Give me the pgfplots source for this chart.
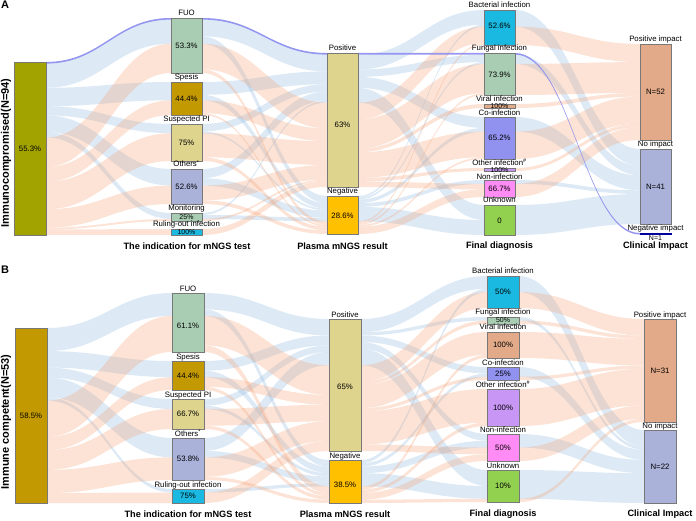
\documentclass[border=0pt]{standalone}
\usepackage{pgfplots}
\pgfplotsset{compat=1.18}
\usepackage{fontspec}
\setmainfont{Liberation Sans}

% node colours
\definecolor{cOlive}{RGB}{163,163,0}
\definecolor{cGold}{RGB}{194,153,0}
\definecolor{cMint}{RGB}{168,205,178}
\definecolor{cKhaki}{RGB}{222,212,142}
\definecolor{cLav}{RGB}{170,178,218}
\definecolor{cCyan}{RGB}{25,185,225}
\definecolor{cYel}{RGB}{255,192,0}
\definecolor{cPeach}{RGB}{226,170,136}
\definecolor{cCo}{RGB}{145,145,240}
\definecolor{cOth}{RGB}{200,150,245}
\definecolor{cNon}{RGB}{255,140,245}
\definecolor{cUnk}{RGB}{146,208,80}
\definecolor{cNeg}{RGB}{0,0,160}
\definecolor{bord}{RGB}{120,120,120}
% flow colours
\definecolor{flowblue}{RGB}{142,185,225}
\definecolor{flowsal}{RGB}{245,162,118}
\definecolor{flowneg}{RGB}{140,140,240}

\tikzset{
  bl/.style={fill=flowblue, fill opacity=0.3},
  sa/.style={fill=flowsal, fill opacity=0.3},
  ng/.style={fill=flowneg, fill opacity=0.9},
  lab/.style={anchor=base, inner sep=0pt, font=\fontsize{7.8}{8}\selectfont},
  pct/.style={anchor=center, inner sep=0pt, font=\fontsize{7.8}{8}\selectfont},
  tiny/.style={anchor=center, inner sep=0pt, font=\fontsize{7}{7}\selectfont},
  ttl/.style={anchor=center, inner sep=0pt, font=\fontsize{9.2}{10}\selectfont\bfseries},
}

% flow band: x0, x1, y0 top, y0 bottom, y1 top, y1 bottom, style
\newcommand{\fl}[7]{\fill[#7] (axis cs:#1,#3) .. controls +(56pt,0pt) and +(-56pt,0pt) .. (axis cs:#2,#5)
  -- (axis cs:#2,#6) .. controls +(-56pt,0pt) and +(56pt,0pt) .. (axis cs:#1,#4) -- cycle;}
% stratum box: x0, y0, x1, y1, colour
\newcommand{\bx}[5]{\addplot[fill=#5, draw=bord, line width=0.5pt] coordinates {(#1,#2) (#3,#2) (#3,#4) (#1,#4)} --cycle;}

\begin{document}
\begin{tikzpicture}
\begin{axis}[
  scale only axis, width=696pt, height=521pt,
  xmin=0, xmax=696, ymin=0, ymax=521, y dir=reverse,
  hide axis, clip=false,
]
\path (axis cs:0,0) rectangle (axis cs:696,521);

%%%%%%%%%%%%%%%%%%%% PANEL A %%%%%%%%%%%%%%%%%%%%
% gap 1
\fl{46}{171}{62}{87.8}{18}{43.7}{bl}
\fl{46}{171}{87.8}{106.2}{82}{100.3}{bl}
\fl{46}{171}{106.2}{115.4}{124}{133.2}{bl}
\fl{46}{171}{115.4}{132.0}{169}{185.6}{bl}
\fl{46}{171}{132.0}{137.5}{213}{219}{bl}
\fl{46}{171}{137.5}{167.0}{43.7}{73}{sa}
\fl{46}{171}{167.0}{181.7}{100.3}{115}{sa}
\fl{46}{171}{181.7}{209.3}{133.2}{161}{sa}
\fl{46}{171}{209.3}{227.7}{185.6}{204}{sa}
\fl{46}{171}{227.7}{229.5}{219}{221}{sa}
\fl{46}{171}{229.5}{235}{229}{235}{sa}
% gap 2
\fl{202}{327}{18}{36.3}{53}{71.4}{bl}
\fl{202}{327}{36.3}{43.7}{196}{203.2}{bl}
\fl{202}{327}{82}{94.8}{71.4}{84.2}{bl}
\fl{202}{327}{94.8}{100.3}{203.2}{208.7}{bl}
\fl{202}{327}{124}{131.4}{84.2}{91.6}{bl}
\fl{202}{327}{131.4}{133.2}{208.7}{210.5}{bl}
\fl{202}{327}{169}{178.2}{91.6}{100.8}{bl}
\fl{202}{327}{178.2}{185.6}{210.5}{217.7}{bl}
\fl{202}{327}{213}{215}{100.8}{102.6}{bl}
\fl{202}{327}{215}{219}{217.7}{221.3}{bl}
\fl{202}{327}{43.7}{69.3}{102.6}{128.3}{sa}
\fl{202}{327}{69.3}{73}{221.3}{224.9}{sa}
\fl{202}{327}{100.3}{113.2}{128.3}{141.2}{sa}
\fl{202}{327}{113.2}{115}{224.9}{226.7}{sa}
\fl{202}{327}{133.2}{157.3}{141.2}{165.0}{sa}
\fl{202}{327}{157.3}{161}{226.7}{230.4}{sa}
\fl{202}{327}{185.6}{200.3}{165.0}{179.7}{sa}
\fl{202}{327}{200.3}{204}{230.4}{234}{sa}
\fl{202}{327}{219}{221}{179.7}{181.5}{sa}
\fl{202}{327}{229}{235}{181.5}{187}{sa}
% gap 3
\fl{358}{484}{54.8}{69.5}{10}{24.7}{bl}
\fl{358}{484}{69.5}{76.9}{54.8}{62.1}{bl}
\fl{358}{484}{76.9}{87.9}{117}{128.0}{bl}
\fl{358}{484}{87.9}{102.6}{205}{220}{bl}
\fl{358}{484}{196}{197.8}{24.7}{26.6}{bl}
\fl{358}{484}{197.8}{199.6}{62.1}{64.0}{bl}
\fl{358}{484}{199.6}{203.2}{128.0}{131.6}{bl}
\fl{358}{484}{203.2}{206.9}{180}{183.8}{bl}
\fl{358}{484}{206.9}{221.3}{220}{235}{bl}
\fl{358}{484}{102.6}{119.1}{26.6}{43.2}{sa}
\fl{358}{484}{119.1}{148.5}{64.0}{93.2}{sa}
\fl{358}{484}{148.5}{152.2}{104}{108}{sa}
\fl{358}{484}{152.2}{177.9}{131.6}{157.2}{sa}
\fl{358}{484}{177.9}{181.6}{168}{171}{sa}
\fl{358}{484}{181.6}{187}{183.8}{189.4}{sa}
\fl{358}{484}{221.3}{223.1}{43.2}{45}{sa}
\fl{358}{484}{223.1}{224.9}{93.2}{95}{sa}
\fl{358}{484}{224.9}{226.7}{157.2}{159}{sa}
\fl{358}{484}{226.7}{234}{189.4}{197}{sa}
% gap 4
\fl{515}{640}{10}{26.6}{149}{165.9}{bl}
\fl{515}{640}{54.8}{64.0}{165.9}{175.3}{bl}
\fl{515}{640}{117}{131.6}{175.3}{190.3}{bl}
\fl{515}{640}{180}{183.8}{190.3}{194.0}{bl}
\fl{515}{640}{205}{235}{194.0}{224}{bl}
\fl{515}{640}{26.6}{45}{44}{62.1}{sa}
\fl{515}{640}{64.0}{95}{62.1}{92.9}{sa}
\fl{515}{640}{104}{108}{92.9}{96.5}{sa}
\fl{515}{640}{131.6}{159}{96.5}{123.7}{sa}
\fl{515}{640}{168}{171}{123.7}{127.3}{sa}
\fl{515}{640}{183.8}{197}{127.3}{140}{sa}
% the single negative-impact patient
\fl{46}{171}{62}{63.6}{18}{19.6}{ng}
\fl{202}{327}{18}{19.6}{53}{54.6}{ng}
\fl{358}{484}{53}{54.6}{53}{54.6}{ng}
\fl{515}{640}{53}{54.6}{233}{234.6}{ng}

% strata A
\bx{14}{62}{46}{235}{cOlive}
\bx{171}{18}{202}{73}{cMint}
\bx{171}{82}{202}{115}{cGold}
\bx{171}{124}{202}{161}{cKhaki}
\bx{171}{169}{202}{204}{cLav}
\bx{171}{213}{202}{221}{cMint}
\bx{171}{229}{202}{235}{cCyan}
\bx{327}{53}{358}{187}{cKhaki}
\bx{327}{196}{358}{234}{cYel}
\bx{484}{10}{515}{45}{cCyan}
\bx{484}{53}{515}{95}{cMint}
\bx{484}{104}{515}{108}{cPeach}
\bx{484}{117}{515}{159}{cCo}
\bx{484}{168}{515}{171}{cOth}
\bx{484}{180}{515}{197}{cNon}
\bx{484}{205}{515}{235}{cUnk}
\bx{640}{44}{671}{140}{cPeach}
\bx{640}{149}{671}{224}{cLav}
\addplot[fill=cNeg, draw=cNeg, line width=0.5pt] coordinates {(640,233) (671,233) (671,234.5) (640,234.5)} --cycle;

% labels A
\node[pct] at (axis cs:30,148.5) {55.3\%};
\node[lab] at (axis cs:186.5,16) {FUO};
\node[pct] at (axis cs:186.5,45.5) {53.3\%};
\node[lab] at (axis cs:186.5,80) {Spesis};
\node[pct] at (axis cs:186.5,98.5) {44.4\%};
\node[lab] at (axis cs:186.5,122) {Suspected PI};
\node[pct] at (axis cs:186.5,142.5) {75\%};
\node[lab] at (axis cs:186.5,167) {Others\textsuperscript{*}};
\node[pct] at (axis cs:186.5,186.5) {52.6\%};
\node[lab] at (axis cs:186.5,210.5) {Monitoring};
\node[tiny] at (axis cs:186.5,217) {25\%};
\node[lab] at (axis cs:186.5,226.5) {Ruling-out infection};
\node[tiny] at (axis cs:186.5,232.3) {100\%};
\node[lab] at (axis cs:342.5,51) {Positive};
\node[pct] at (axis cs:342.5,125) {63\%};
\node[lab] at (axis cs:342.5,194) {Negative};
\node[pct] at (axis cs:342.5,216) {28.6\%};
\node[lab] at (axis cs:499.5,8) {Bacterial infection};
\node[pct] at (axis cs:499.5,26) {52.6\%};
\node[lab] at (axis cs:499.5,51) {Fungal infection};
\node[pct] at (axis cs:499.5,75) {73.9\%};
\node[lab] at (axis cs:499.5,101.5) {Viral infection};
\node[tiny] at (axis cs:499.5,106.5) {100\%};
\node[lab] at (axis cs:499.5,115.3) {Co-infection};
\node[pct] at (axis cs:499.5,138) {65.2\%};
\node[lab] at (axis cs:499.5,165.3) {Other infection\textsuperscript{\#}};
\node[tiny] at (axis cs:499.5,169.8) {100\%};
\node[lab] at (axis cs:499.5,179.2) {Non-infection};
\node[pct] at (axis cs:499.5,189) {66.7\%};
\node[lab] at (axis cs:499.5,203) {Unknown};
\node[pct] at (axis cs:499.5,220.5) {0};
\node[lab] at (axis cs:655.5,42) {Positive impact};
\node[pct] at (axis cs:655.5,92) {N=52};
\node[lab] at (axis cs:655.5,147) {No impact};
\node[pct] at (axis cs:655.5,186.5) {N=41};
\node[lab] at (axis cs:655.5,231) {Negative impact};
\node[tiny] at (axis cs:655.5,238) {N=1};
\node[ttl] at (axis cs:187,246) {The indication for mNGS test};
\node[ttl] at (axis cs:342.5,246) {Plasma mNGS result};
\node[ttl] at (axis cs:499.5,246) {Final diagnosis};
\node[ttl] at (axis cs:655.5,246) {Clinical Impact};
\node[anchor=center, inner sep=0pt, rotate=90, font=\fontsize{11}{12}\selectfont\bfseries] at (axis cs:6,153) {Immunocompromised(N=94)};
\node[anchor=north west, inner sep=0pt, font=\fontsize{11}{12}\selectfont\bfseries] at (axis cs:1,1) {A};

%%%%%%%%%%%%%%%%%%%% PANEL B %%%%%%%%%%%%%%%%%%%%
% gap 1
\fl{47}{172}{328}{351.1}{293}{315.9}{bl}
\fl{47}{172}{351.1}{367.6}{361}{377.1}{bl}
\fl{47}{172}{367.6}{377.5}{399}{409}{bl}
\fl{47}{172}{377.5}{397.3}{438}{457.4}{bl}
\fl{47}{172}{397.3}{400.6}{489}{492.5}{bl}
\fl{47}{172}{400.6}{436.9}{315.9}{352}{sa}
\fl{47}{172}{436.9}{450.1}{377.1}{390}{sa}
\fl{47}{172}{450.1}{469.9}{409}{429}{sa}
\fl{47}{172}{469.9}{493.0}{457.4}{480}{sa}
\fl{47}{172}{493.0}{503}{492.5}{503}{sa}
% gap 2
\fl{204}{329}{293}{309.4}{319}{335.5}{bl}
\fl{204}{329}{309.4}{315.9}{460}{466.6}{bl}
\fl{204}{329}{361}{370.7}{335.5}{345.4}{bl}
\fl{204}{329}{370.7}{377.1}{466.6}{473.2}{bl}
\fl{204}{329}{399}{405.7}{345.4}{352}{bl}
\fl{204}{329}{405.7}{409}{473.2}{476.5}{bl}
\fl{204}{329}{438}{450.9}{352}{365.2}{bl}
\fl{204}{329}{450.9}{457.4}{476.5}{483.1}{bl}
\fl{204}{329}{489}{492.5}{483.1}{486.4}{bl}
\fl{204}{329}{315.9}{345.4}{365.2}{394.9}{sa}
\fl{204}{329}{345.4}{352}{486.4}{493.0}{sa}
\fl{204}{329}{377.1}{386.8}{394.9}{404.8}{sa}
\fl{204}{329}{386.8}{390}{493.0}{496.3}{sa}
\fl{204}{329}{409}{425.7}{404.8}{421.3}{sa}
\fl{204}{329}{425.7}{429}{496.3}{499.7}{sa}
\fl{204}{329}{457.4}{476.8}{421.3}{441.1}{sa}
\fl{204}{329}{476.8}{480}{499.7}{503}{sa}
\fl{204}{329}{492.5}{503}{441.1}{451}{sa}
% gap 3
\fl{361}{487}{319}{332.2}{276}{288.8}{bl}
\fl{361}{487}{332.2}{335.5}{317}{320.5}{bl}
\fl{361}{487}{335.5}{342.1}{367}{373.5}{bl}
\fl{361}{487}{342.1}{348.7}{434}{440.75}{bl}
\fl{361}{487}{348.7}{365.2}{470}{486}{bl}
\fl{361}{487}{460}{463.3}{288.8}{292}{bl}
\fl{361}{487}{463.3}{466.6}{373.5}{376.75}{bl}
\fl{361}{487}{466.6}{473.2}{440.75}{447.5}{bl}
\fl{361}{487}{473.2}{486.4}{486}{498.8}{bl}
\fl{361}{487}{365.2}{381.7}{292}{308}{sa}
\fl{361}{487}{381.7}{385.0}{320.5}{324}{sa}
\fl{361}{487}{385.0}{408.1}{332}{354.75}{sa}
\fl{361}{487}{408.1}{411.4}{376.75}{380}{sa}
\fl{361}{487}{411.4}{444.4}{389}{422.6}{sa}
\fl{361}{487}{444.4}{451}{447.5}{454.25}{sa}
\fl{361}{487}{486.4}{489.7}{354.75}{358}{sa}
\fl{361}{487}{489.7}{493.0}{422.6}{426}{sa}
\fl{361}{487}{493.0}{499.7}{454.25}{461}{sa}
\fl{361}{487}{499.7}{503}{498.8}{502}{sa}
% gap 4
\fl{519}{644}{276}{292}{430}{446.6}{bl}
\fl{519}{644}{317}{320.5}{446.6}{449.9}{bl}
\fl{519}{644}{367}{376.75}{449.9}{459.9}{bl}
\fl{519}{644}{434}{447.5}{459.9}{473.2}{bl}
\fl{519}{644}{470}{498.8}{473.2}{503}{bl}
\fl{519}{644}{292}{308}{319}{335.6}{sa}
\fl{519}{644}{320.5}{324}{335.6}{338.9}{sa}
\fl{519}{644}{332}{358}{338.9}{365.5}{sa}
\fl{519}{644}{376.75}{380}{365.5}{368.8}{sa}
\fl{519}{644}{389}{426}{368.8}{405.4}{sa}
\fl{519}{644}{447.5}{461}{405.4}{418.7}{sa}
\fl{519}{644}{498.8}{502}{418.7}{422}{sa}

% strata B
\bx{15}{328}{47}{503}{cGold}
\bx{172}{293}{204}{352}{cMint}
\bx{172}{361}{204}{390}{cGold}
\bx{172}{399}{204}{429}{cKhaki}
\bx{172}{438}{204}{480}{cLav}
\bx{172}{489}{204}{503}{cCyan}
\bx{329}{319}{361}{451}{cKhaki}
\bx{329}{460}{361}{503}{cYel}
\bx{487}{276}{519}{308}{cCyan}
\bx{487}{317}{519}{324}{cMint}
\bx{487}{332}{519}{358}{cPeach}
\bx{487}{367}{519}{380}{cCo}
\bx{487}{389}{519}{426}{cOth}
\bx{487}{434}{519}{461}{cNon}
\bx{487}{470}{519}{502}{cUnk}
\bx{644}{319}{676}{422}{cPeach}
\bx{644}{430}{676}{503}{cLav}

% labels B
\node[pct] at (axis cs:31,415.5) {58.5\%};
\node[lab] at (axis cs:188,291) {FUO};
\node[pct] at (axis cs:188,326) {61.1\%};
\node[lab] at (axis cs:188,359) {Spesis};
\node[pct] at (axis cs:188,375.5) {44.4\%};
\node[lab] at (axis cs:188,397) {Suspected PI};
\node[pct] at (axis cs:188,414) {66.7\%};
\node[lab] at (axis cs:188,436) {Others\textsuperscript{*}};
\node[pct] at (axis cs:188,459) {53.8\%};
\node[lab] at (axis cs:188,487) {Ruling-out infection};
\node[pct] at (axis cs:188,496) {75\%};
\node[lab] at (axis cs:345,317) {Positive};
\node[pct] at (axis cs:345,387) {65\%};
\node[lab] at (axis cs:345,458) {Negative};
\node[pct] at (axis cs:345,484.5) {38.5\%};
\node[lab] at (axis cs:503,274) {Bacterial infection};
\node[pct] at (axis cs:503,292) {50\%};
\node[lab] at (axis cs:503,315) {Fungal infection};
\node[tiny] at (axis cs:503,320.5) {50\%};
\node[lab] at (axis cs:503,330) {Viral infection};
\node[pct] at (axis cs:503,345) {100\%};
\node[lab] at (axis cs:503,365) {Co-infection};
\node[pct] at (axis cs:503,373.5) {25\%};
\node[lab] at (axis cs:503,387) {Other infection\textsuperscript{\#}};
\node[pct] at (axis cs:503,407.5) {100\%};
\node[lab] at (axis cs:503,432) {Non-infection};
\node[pct] at (axis cs:503,447.5) {50\%};
\node[lab] at (axis cs:503,468) {Unknown};
\node[pct] at (axis cs:503,486) {10\%};
\node[lab] at (axis cs:660,317) {Positive impact};
\node[pct] at (axis cs:660,370.5) {N=31};
\node[lab] at (axis cs:660,428) {No impact};
\node[pct] at (axis cs:660,466.5) {N=22};
\node[ttl] at (axis cs:188,514) {The indication for mNGS test};
\node[ttl] at (axis cs:345,514) {Plasma mNGS result};
\node[ttl] at (axis cs:503,514) {Final diagnosis};
\node[ttl] at (axis cs:660,514) {Clinical Impact};
\node[anchor=center, inner sep=0pt, rotate=90, font=\fontsize{11}{12}\selectfont\bfseries] at (axis cs:6,422) {Immune competent(N=53)};
\node[anchor=north west, inner sep=0pt, font=\fontsize{11}{12}\selectfont\bfseries] at (axis cs:1,266) {B};
\end{axis}
\end{tikzpicture}
\end{document}
